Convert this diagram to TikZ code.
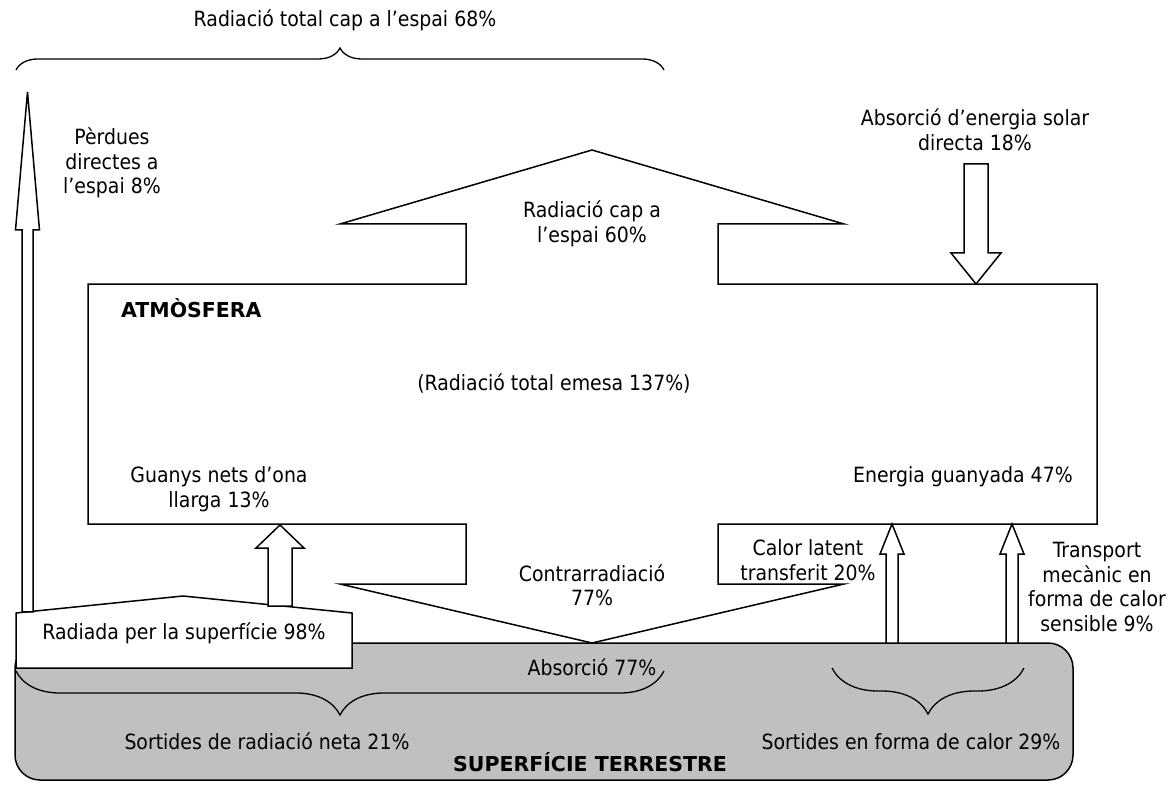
\documentclass[tikz,border=0pt]{standalone}
\usepackage{fontspec}
\setmainfont{DejaVu Sans Condensed}[BoldFont=DejaVu Sans Bold]
\usetikzlibrary{decorations.pathreplacing}
\definecolor{terra}{HTML}{C0C0C0}

\begin{document}
\begin{tikzpicture}[x=1pt,y=-1pt,line width=1.5pt,line join=miter,
  txt/.style={align=center,font=\fontsize{21}{24.5}\selectfont},
  negre/.style={txt,font=\fontsize{20.5}{24.5}\selectfont\bfseries},
  clau/.style={decorate,line width=1.3pt,decoration={brace,amplitude=#1}}]
  \useasboundingbox (0,0) rectangle (1169,786);
  % superficie terrestre
  \draw[fill=terra,rounded corners=25pt] (15,643) rectangle (1073,780);
  \draw[fill=white] (16,613) -- (183,596) -- (352,613) -- (352,668) -- (16,668) -- cycle;
  % fletxes gruixudes (centre/mig tronc/mig cap/base/cap/punta)
  \foreach \x/\s/\h/\yb/\yh/\yt in {27.5/5.5/12/611.8/230/92, 280/12/24/606/548/525,
      892/6/12/643/554/524, 1012/6/12/643/554/524, 976/12/25/164/253/284}
    \draw[fill=white] (\x-\s,\yb) -- (\x-\s,\yh) -- (\x-\h,\yh) -- (\x,\yt)
      -- (\x+\h,\yh) -- (\x+\s,\yh) -- (\x+\s,\yb) -- cycle;
  % atmosfera
  \draw (88,284) -- (466,284) -- (466,224) -- (340,224) -- (592,150) -- (844,224)
    -- (718,224) -- (718,284) -- (1097,284) -- (1097,524) -- (718,524) -- (718,584)
    -- (844,584) -- (592,643) -- (340,584) -- (466,584) -- (466,524) -- (88,524) -- cycle;
  % claus
  \draw[clau=22pt] (16,70) -- (664,70);
  \draw[clau=44pt] (664,671) -- (16,671);
  \draw[clau=46pt] (1024,668) -- (832,668);
  % textos
  \node[txt] (espai68) at (345,20) {Radiació total cap a l’espai 68\%};
  \node[txt] (perdues) at (112,163) {Pèrdues\\directes a\\l’espai 8\%};
  \node[txt] (solar) at (975,130) {Absorció d’energia solar\\directa 18\%};
  \node[txt] (espai60) at (592,224) {Radiació cap a\\l’espai 60\%};
  \node[negre,anchor=west] (atm) at (117,308) {ATMÒSFERA};
  \node[txt] (emesa) at (554,383) {(Radiació total emesa 137\%)};
  \node[txt] (guanys) at (219,489) {Guanys nets d’ona\\llarga 13\%};
  \node[txt] (energia) at (963,477) {Energia guanyada 47\%};
  \node[txt] (calor) at (808,560) {Calor latent\\transferit 20\%};
  \node[txt] (transport) at (1097,587) {Transport\\mecànic en\\forma de calor\\sensible 9\%};
  \node[txt] (contra) at (592,585) {Contrarradiació\\77\%};
  \node[txt] (absorcio) at (592,667) {Absorció 77\%};
  \node[txt] (radiada) at (184,633) {Radiada per la superfície 98\%};
  \node[txt] (sort21) at (267,741) {Sortides de radiació neta 21\%};
  \node[txt] (sort29) at (911,742) {Sortides en forma de calor 29\%};
  \node[negre] (terra) at (590,762) {SUPERFÍCIE TERRESTRE};
\end{tikzpicture}
\end{document}
